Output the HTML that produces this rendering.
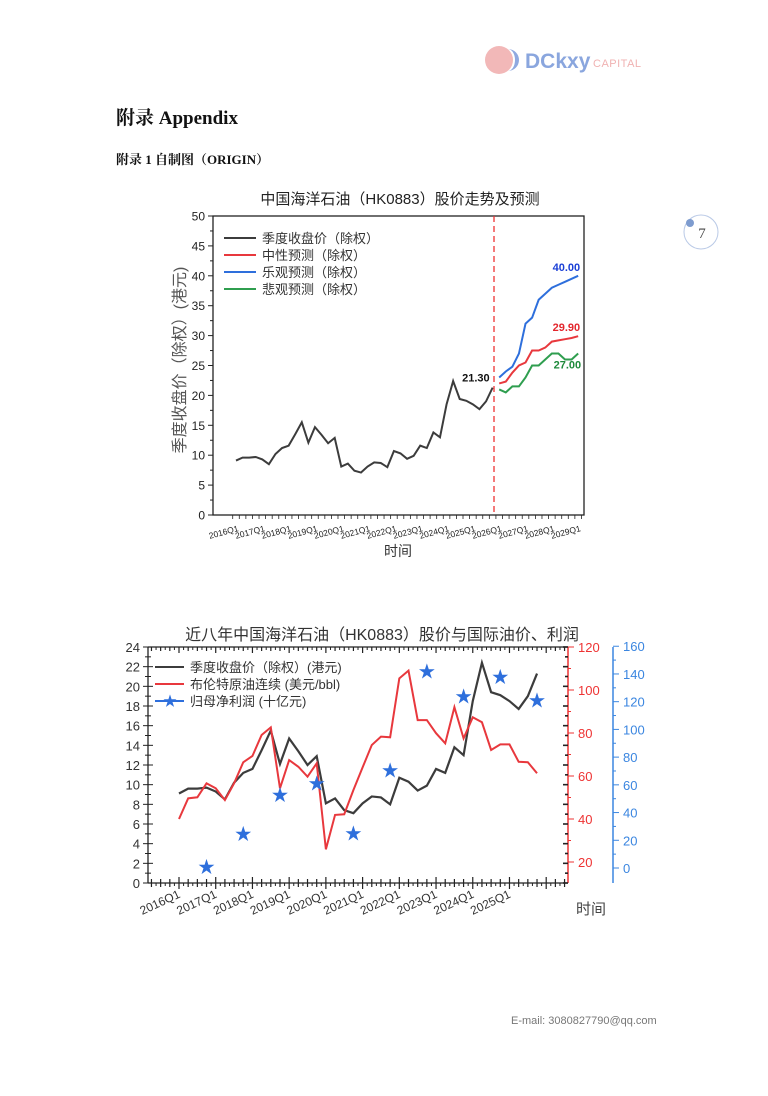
<!DOCTYPE html>
<html><head><meta charset="utf-8"><style>
html,body{margin:0;padding:0;background:#fff;}
svg text{font-family:"Liberation Sans","Noto Sans CJK SC",sans-serif;}
.serif{font-family:"Liberation Serif","Noto Serif CJK SC",serif !important;}
</style></head><body>
<svg id="page" width="768" height="1091" viewBox="0 0 768 1091" xmlns="http://www.w3.org/2000/svg">
  <g>
    <circle cx="499" cy="60" r="14" fill="#f2b8b8"/>
    <path d="M506 47 A13 13 0 0 1 506 73 A10 13 0 0 0 506 47Z" fill="#fff"/>
    <path d="M508 49 A11 11 0 0 1 508 71 A7 11 0 0 0 508 49Z" fill="#8fa9e0"/>
    <text x="525" y="68" font-size="21" font-weight="bold" fill="#8aa6de">DCkxy</text>
    <text x="593" y="67" font-size="11" fill="#f0b2b2" letter-spacing="0.5">CAPITAL</text>
  </g>
  <text class="serif" x="116" y="124" font-size="19" font-weight="bold" fill="#111">附录 Appendix</text>
  <text class="serif" x="116" y="164" font-size="13" font-weight="bold" fill="#111">附录 1 自制图（ORIGIN）</text>
  <g>
    <circle cx="701" cy="232" r="17" fill="none" stroke="#b9c9e6" stroke-width="1"/>
    <circle cx="690" cy="223" r="4" fill="#7e9ccf"/>
    <text class="serif" x="702" y="238" font-size="15" text-anchor="middle" fill="#444">7</text>
  </g>
  <text x="511" y="1024" font-size="11" fill="#777">E-mail: 3080827790@qq.com</text>
  <g id="c1"></g>
  <g id="c2"></g>
</svg>
<script>
// ---------- Chart 1 data ----------
const c1Years = ["2016Q1","2017Q1","2018Q1","2019Q1","2020Q1","2021Q1","2022Q1","2023Q1","2024Q1","2025Q1","2026Q1","2027Q1","2028Q1","2029Q1"];
const c1YTicks = [0,5,10,15,20,25,30,35,40,45,50];
const priceHist = [9.1,9.6,9.6,9.7,9.3,8.5,10.2,11.2,11.6,13.5,15.5,12.1,14.7,13.4,12.0,12.9,8.1,8.6,7.4,7.1,8.1,8.8,8.7,8.0,10.7,10.3,9.4,9.9,11.6,11.2,13.8,13.0,18.5,22.4,19.4,19.1,18.5,17.7,19.0,21.3];
const fcBlue = [23.0,24.0,24.8,27.0,32.0,33.0,36.0,37.0,38.0,38.5,39.0,39.5,40.0];
const fcRed = [22.0,22.3,23.8,25.0,25.5,27.5,27.5,28.0,29.0,29.2,29.4,29.6,29.9];
const fcGreen = [21.0,20.5,21.5,21.5,23.0,25.0,25.0,26.0,27.0,27.0,26.0,26.0,27.0];
// ---------- Chart 2 data ----------
const c2Years = ["2016Q1","2017Q1","2018Q1","2019Q1","2020Q1","2021Q1","2022Q1","2023Q1","2024Q1","2025Q1"];
const c2LeftTicks = [0,2,4,6,8,10,12,14,16,18,20,22,24];
const c2RedTicks = [20,40,60,80,100,120];
const c2BlueTicks = [0,20,40,60,80,100,120,140,160];
const oilPrice = [40,49.6,50.1,56.6,54.3,48.8,56.6,66.4,69.3,79.1,82.6,54.3,67.4,64.3,59.7,65.9,25.9,41.9,42.2,53.5,64.0,74.4,78.3,78.0,105.4,109.0,86.0,86.0,79.9,75.2,92.0,77.5,87.3,85.0,72.1,74.7,74.7,66.6,66.4,61.3];
const profitQuarter = [3,7,11,15,19,23,27,31,35,39];
const profitValue = [0.6,24.7,52.7,61.0,24.9,70.3,141.7,123.8,137.9,121];

const NS="http://www.w3.org/2000/svg";
function mk(parent,tag,attrs,text){const e=document.createElementNS(NS,tag);for(const k in attrs)e.setAttribute(k,attrs[k]);if(text!==undefined)e.textContent=text;parent.appendChild(e);return e;}

// ================= Chart 1 =================
(function(){
  const g=document.getElementById('c1');
  const L=213,R=584,T=216,B=515;
  const x=i=>236+i*6.58, y=v=>B-(v/50)*(B-T);
  const t=mk(g,'text',{x:400,y:204,'font-size':15,'text-anchor':'middle',fill:'#222'},'中国海洋石油（HK0883）股价走势及预测');
  
  
  const box=mk(g,'rect',{x:L,y:T,width:R-L,height:B-T,fill:'none',stroke:'#222','stroke-width':1.3});
  
  
  for(let v=0;v<=50;v+=2.5){const maj=v%5===0;mk(g,'line',{x1:L,x2:L-(maj?5:3),y1:y(v),y2:y(v),stroke:'#222','stroke-width':1});}
  c1YTicks.forEach(v=>{const e=mk(g,'text',{x:L-8,y:y(v)+4.5,'font-size':12,'text-anchor':'end',fill:'#222'},v);
    
    });
  for(let i=0;i<=53;i++){const xx=236+(i-0.5)*6.58; if(xx<L||xx>R)continue; mk(g,'line',{x1:xx,x2:xx,y1:B,y2:B+4,stroke:'#222','stroke-width':0.8});}
  c1Years.forEach((s,k)=>{const xx=x(k*4);const e=mk(g,'text',{x:xx+3,y:B+16,'font-size':8.5,'text-anchor':'end',fill:'#222',transform:`rotate(-15 ${xx+3} ${B+16})`},s);
    
    });
  const xt=mk(g,'text',{x:398,y:556,'font-size':14,'text-anchor':'middle',fill:'#333'},'时间');
  
  
  const yt=mk(g,'text',{x:0,y:0,'font-size':16,'text-anchor':'middle',fill:'#555',transform:'translate(185,360) rotate(-90)'},'季度收盘价（除权）(港元)');
  
  
  const dl=mk(g,'line',{x1:494,x2:494,y1:T,y2:B,stroke:'#e33','stroke-width':1.3,'stroke-dasharray':'6,4'});
  
  
  function line(vals,off,col,name){const p=mk(g,'polyline',{points:vals.map((v,i)=>x(i+off)+','+y(v)).join(' '),fill:'none',stroke:col,'stroke-width':2});
    
    }
  line(priceHist,0,'#3c3c3c','price-history-line');
  line(fcRed,40,'#e8383d','neutral-forecast-line');
  line(fcBlue,40,'#2e6fdc','optimistic-forecast-line');
  line(fcGreen,40,'#2f9e4f','pessimistic-forecast-line');
  const lbl=(tx,xx,yy,col,name)=>{const e=mk(g,'text',{x:xx,y:yy,'font-size':11,'font-weight':'bold','text-anchor':'end',fill:col},tx);
    
    };
  lbl(priceHist[39].toFixed(2),x(39)-3,y(priceHist[39])-6,'#111','last-price-label');
  lbl(fcBlue[12].toFixed(2),x(52)+2,y(fcBlue[12])-5,'#1a3fd6','optimistic-end-label');
  lbl(fcRed[12].toFixed(2),x(52)+2,y(fcRed[12])-5,'#e3262d','neutral-end-label');
  lbl(fcGreen[12].toFixed(2),x(52)+3,y(fcGreen[12])+15,'#1e8a3b','pessimistic-end-label');
  const leg=[['季度收盘价（除权）','#3c3c3c'],['中性预测（除权）','#e8383d'],['乐观预测（除权）','#2e6fdc'],['悲观预测（除权）','#2f9e4f']];
  leg.forEach((l,k)=>{const yy=238+k*17;const lg=mk(g,'g',{});
    
    
    mk(lg,'line',{x1:224,x2:256,y1:yy,y2:yy,stroke:l[1],'stroke-width':2});
    mk(lg,'text',{x:262,y:yy+5,'font-size':13,fill:'#333'},l[0]);});
})();

// ================= Chart 2 =================
(function(){
  const g=document.getElementById('c2');
  const L=148,R=568,T=647,B=883,BA=613;
  const x=i=>179+i*9.18, yl=v=>B-(v/24)*(B-T), yr=v=>647+(120-v)*2.15, yb=v=>868-v*1.386;
  const t=mk(g,'text',{x:382,y:640,'font-size':16,'text-anchor':'middle',fill:'#333'},'近八年中国海洋石油（HK0883）股价与国际油价、利润');
  
  
  const f=mk(g,'g',{});  
  mk(f,'line',{x1:L,x2:R,y1:T,y2:T,stroke:'#222','stroke-width':1.3});
  mk(f,'line',{x1:L,x2:R,y1:B,y2:B,stroke:'#222','stroke-width':1.3});
  mk(f,'line',{x1:L,x2:L,y1:T,y2:B,stroke:'#222','stroke-width':1.3});
  mk(f,'line',{x1:R,x2:R,y1:T,y2:B,stroke:'#e33','stroke-width':1.5});
  mk(f,'line',{x1:BA,x2:BA,y1:T,y2:B,stroke:'#3b86e0','stroke-width':1.5});
  for(let v=0;v<=24;v+=1){const maj=v%2===0;mk(g,'line',{x1:L-(maj?5:3),x2:L+(maj?5:3),y1:yl(v),y2:yl(v),stroke:'#222','stroke-width':1});
    mk(g,'line',{x1:R-(maj?5:3),x2:R,y1:yl(v),y2:yl(v),stroke:'#222','stroke-width':1.6});}
  c2LeftTicks.forEach(v=>{const e=mk(g,'text',{x:L-8,y:yl(v)+5,'font-size':13,'text-anchor':'end',fill:'#333'},v);
    
    });
  for(let v=20;v<=120;v+=10){mk(g,'line',{x1:R,x2:R+(v%20===0?6:3),y1:yr(v),y2:yr(v),stroke:'#e33','stroke-width':1});}
  c2RedTicks.forEach(v=>{const e=mk(g,'text',{x:R+10,y:yr(v)+5,'font-size':13,fill:'#e33'},v);
    
    });
  for(let v=0;v<=160;v+=10){mk(g,'line',{x1:BA,x2:BA+(v%20===0?6:3),y1:yb(v),y2:yb(v),stroke:'#3b86e0','stroke-width':1});}
  c2BlueTicks.forEach(v=>{const e=mk(g,'text',{x:BA+10,y:yb(v)+5,'font-size':13,fill:'#3b86e0'},v);
    
    });
  for(let i=-3;i<=42;i++){const xx=x(i);if(xx<L||xx>R)continue;const h=(i%4===0)?6:4;
    mk(g,'line',{x1:xx,x2:xx,y1:B-h,y2:B+h,stroke:'#222','stroke-width':1.2});
    mk(g,'line',{x1:xx,x2:xx,y1:T,y2:T+h,stroke:'#222','stroke-width':1.2});
    const xm=xx+4.59; if(xm<R){mk(g,'line',{x1:xm,x2:xm,y1:B,y2:B+3,stroke:'#222','stroke-width':1});mk(g,'line',{x1:xm,x2:xm,y1:T,y2:T+3,stroke:'#222','stroke-width':1});}}
  c2Years.forEach((s,k)=>{const xx=x(k*4)+2;const e=mk(g,'text',{x:xx,y:B+14,'font-size':12,'text-anchor':'end',fill:'#333',transform:`rotate(-25 ${xx} ${B+14})`},s);
    
    });
  const xt=mk(g,'text',{x:576,y:914,'font-size':15,fill:'#444'},'时间');
  
  
  const p1=mk(g,'polyline',{points:priceHist.map((v,i)=>x(i)+','+yl(v)).join(' '),fill:'none',stroke:'#3c3c3c','stroke-width':2.2});
  
  
  const p2=mk(g,'polyline',{points:oilPrice.map((v,i)=>x(i)+','+yr(v)).join(' '),fill:'none',stroke:'#e8383d','stroke-width':2});
  
  
  profitQuarter.forEach((q,k)=>{const s=mk(g,'text',{x:x(q),y:yb(profitValue[k])+6,'font-size':17,'text-anchor':'middle',fill:'#2e6fdc'},'★');
    
    });
  const leg=[['季度收盘价（除权）(港元)','#3c3c3c',false],['布伦特原油连续 (美元/bbl)','#e8383d',false],['归母净利润 (十亿元)','#2e6fdc',true]];
  leg.forEach((l,k)=>{const yy=667+k*17;const lg=mk(g,'g',{});
    
    
    mk(lg,'line',{x1:155,x2:184,y1:yy,y2:yy,stroke:l[1],'stroke-width':2});
    if(l[2])mk(lg,'text',{x:170,y:yy+5,'font-size':14,'text-anchor':'middle',fill:l[1]},'★');
    mk(lg,'text',{x:190,y:yy+5,'font-size':13,fill:'#333'},l[0]);});
})();
</script>
</body></html>
